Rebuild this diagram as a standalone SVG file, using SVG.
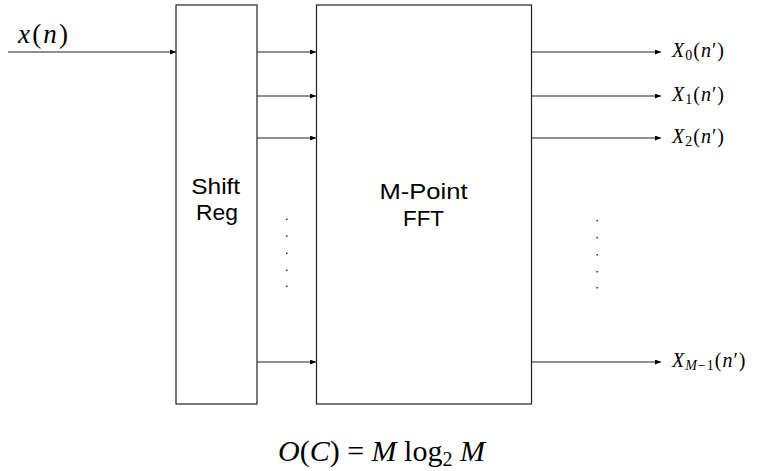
<svg xmlns="http://www.w3.org/2000/svg" width="761" height="471" viewBox="0 0 761 471">
<defs>
<marker id="ah" markerWidth="6" markerHeight="5" refX="6" refY="2.5" orient="auto" markerUnits="userSpaceOnUse">
<path d="M0,0 L6,2.5 L0,5 z" fill="#000"/>
</marker>
<style>
.box{fill:#fff;stroke:#222;stroke-width:1.2}
.c{stroke:#222;stroke-width:1.2;fill:none;marker-end:url(#ah)}
.lbl{font-family:"Liberation Sans",Arial,sans-serif;font-size:22px;fill:#000;text-anchor:middle}
.m{font-family:"Liberation Serif","Times New Roman",serif;font-style:italic;fill:#000}
.r{font-family:"Liberation Serif","Times New Roman",serif;font-style:normal;fill:#000}
.dot{fill:#333}
</style>
</defs>
<rect width="761" height="471" fill="#fff"/>
<g id="shiftreg">
<rect class="box" x="176" y="5" width="81" height="399"/>
<text class="lbl" x="215.7" y="193.5" textLength="49" lengthAdjust="spacingAndGlyphs">Shift</text>
<text class="lbl" x="217" y="220" textLength="42" lengthAdjust="spacingAndGlyphs">Reg</text>
</g>
<g id="fft">
<rect class="box" x="316.5" y="5" width="215" height="399"/>
<text class="lbl" x="423.5" y="198.5" textLength="88" lengthAdjust="spacingAndGlyphs">M-Point</text>
<text class="lbl" x="423.5" y="226" textLength="41" lengthAdjust="spacingAndGlyphs">FFT</text>
</g>
<g id="connectors">
<line class="c" x1="8" y1="52" x2="176" y2="52"/>
<line class="c" x1="257" y1="52" x2="316" y2="52"/>
<line class="c" x1="257" y1="96" x2="316" y2="96"/>
<line class="c" x1="257" y1="138" x2="316" y2="138"/>
<line class="c" x1="257" y1="362" x2="316" y2="362"/>
<line class="c" x1="531.5" y1="52" x2="661" y2="52"/>
<line class="c" x1="531.5" y1="96" x2="661" y2="96"/>
<line class="c" x1="531.5" y1="138" x2="661" y2="138"/>
<line class="c" x1="531.5" y1="362" x2="661" y2="362"/>
</g>
<g id="dots-left">
<rect class="dot" x="286" y="218.5" width="1.5" height="1.5"/>
<rect class="dot" x="286" y="235.5" width="1.5" height="1.5"/>
<rect class="dot" x="286" y="252.5" width="1.5" height="1.5"/>
<rect class="dot" x="286" y="269.5" width="1.5" height="1.5"/>
<rect class="dot" x="286" y="285.5" width="1.5" height="1.5"/>
</g>
<g id="dots-right">
<rect class="dot" x="596.5" y="220" width="1.5" height="1.5"/>
<rect class="dot" x="596.5" y="237" width="1.5" height="1.5"/>
<rect class="dot" x="596.5" y="254" width="1.5" height="1.5"/>
<rect class="dot" x="596.5" y="271" width="1.5" height="1.5"/>
<rect class="dot" x="596.5" y="287" width="1.5" height="1.5"/>
</g>
<g id="input-label">
<text x="18" y="43" font-size="27" textLength="50"><tspan class="m">x</tspan><tspan class="r">(</tspan><tspan class="m">n</tspan><tspan class="r">)</tspan></text>
</g>
<g id="output-labels" font-size="20" letter-spacing="1">
<text x="672" y="57"><tspan class="m">X</tspan><tspan class="r" font-size="14" dy="3">0</tspan><tspan class="r" dy="-3">(</tspan><tspan class="m">n</tspan><tspan class="r">′)</tspan></text>
<text x="672" y="101"><tspan class="m">X</tspan><tspan class="r" font-size="14" dy="3">1</tspan><tspan class="r" dy="-3">(</tspan><tspan class="m">n</tspan><tspan class="r">′)</tspan></text>
<text x="672" y="143"><tspan class="m">X</tspan><tspan class="r" font-size="14" dy="3">2</tspan><tspan class="r" dy="-3">(</tspan><tspan class="m">n</tspan><tspan class="r">′)</tspan></text>
<text x="672" y="367"><tspan class="m">X</tspan><tspan class="m" font-size="14" dy="3">M</tspan><tspan class="r" font-size="14">−1</tspan><tspan class="r" dy="-3">(</tspan><tspan class="m">n</tspan><tspan class="r">′)</tspan></text>
</g>
<g id="formula">
<text x="278" y="461" font-size="30"><tspan class="m">O</tspan><tspan class="r">(</tspan><tspan class="m">C</tspan><tspan class="r">) = </tspan><tspan class="m">M</tspan><tspan class="r"> log</tspan><tspan class="r" font-size="20" dy="5">2</tspan><tspan class="m" dy="-5"> M</tspan></text>
</g>
</svg>
